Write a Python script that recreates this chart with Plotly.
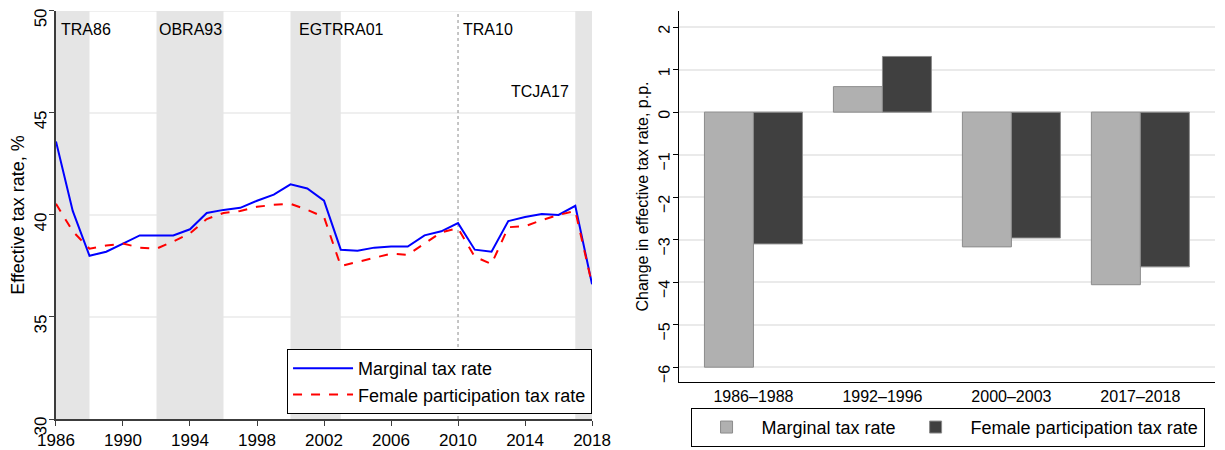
import plotly.graph_objects as go

# Effective tax rates over time (%)
years = list(range(1986, 2019))
marginal_rate = [43.6, 40.2, 38.0, 38.2, 38.6, 39.0, 39.0, 39.0, 39.3, 40.1,
                 40.25, 40.35, 40.7, 41.0, 41.5, 41.3, 40.7, 38.3, 38.25, 38.4,
                 38.45, 38.45, 39.0, 39.2, 39.6, 38.3, 38.2, 39.7, 39.9, 40.05,
                 40.0, 40.45, 36.6]
female_rate = [40.55, 39.2, 38.35, 38.5, 38.6, 38.4, 38.35, 38.7, 39.1, 39.8,
               40.1, 40.2, 40.4, 40.5, 40.55, 40.25, 39.9, 37.5, 37.7, 37.9,
               38.1, 38.05, 38.6, 39.15, 39.35, 37.95, 37.6, 39.4, 39.45, 39.75,
               40.0, 40.2, 36.6]

# Reform periods (shaded) and labels
reform_start = [1986, 1992, 2000, 2017]
reform_end = [1988, 1996, 2003, 2018]
reform_labels = ['TRA86', 'OBRA93', 'EGTRRA01', 'TRA10', 'TCJA17']
label_x = [1986.18, 1992.03, 2000.4, 2010.2, 2016.75]
label_y = [49.07, 49.07, 49.07, 49.07, 46.03]
label_anchor = ['left', 'left', 'left', 'left', 'right']
tra10_year = 2010
y_ticks = [30, 35, 40, 45, 50]

# Change in effective tax rate by reform period (p.p.)
periods = ['1986\u20131988', '1992\u20131996', '2000\u20132003', '2017\u20132018']
marginal_change = [-6.0, 0.6, -3.17, -4.06]
female_change = [-3.1, 1.31, -2.96, -3.64]

FONT = 'Liberation Sans, Arial, sans-serif'
GRID = 'rgb(234,234,234)'
AXIS = 'rgb(60,60,60)'

fig = go.Figure()

fig.add_trace(go.Scatter(x=years, y=marginal_rate, mode='lines',
                         name='Marginal tax rate',
                         line=dict(color='blue', width=2),
                         xaxis='x', yaxis='y', legend='legend'))
fig.add_trace(go.Scatter(x=years, y=female_rate, mode='lines',
                         name='Female participation tax rate',
                         line=dict(color='red', width=2, dash='dash'),
                         xaxis='x', yaxis='y', legend='legend'))

fig.add_trace(go.Bar(x=periods, y=marginal_change, name='Marginal tax rate',
                     marker=dict(color='rgb(176,176,176)',
                                 line=dict(color='rgb(140,140,140)', width=1)),
                     xaxis='x2', yaxis='y2', legend='legend2'))
fig.add_trace(go.Bar(x=periods, y=female_change,
                     name='Female participation tax rate',
                     marker=dict(color='rgb(64,64,64)',
                                 line=dict(color='rgb(140,140,140)', width=1)),
                     xaxis='x2', yaxis='y2', legend='legend2'))

# gridlines for the left panel (drawn as shapes so the shading covers them)
for v in y_ticks[1:]:
    fig.add_shape(type='line', xref='x domain', yref='y', x0=0, x1=1, y0=v, y1=v,
                  line=dict(color=GRID, width=1.5), layer='below')

# shaded reform periods
for s, e in zip(reform_start, reform_end):
    fig.add_shape(type='rect', xref='x', yref='y domain', x0=s, x1=e, y0=0, y1=1,
                  fillcolor='rgb(229,229,229)', line_width=0, layer='below')
fig.add_shape(type='line', xref='x', yref='y domain', x0=tra10_year, x1=tra10_year,
              y0=0, y1=1, line=dict(color='rgb(140,140,140)', width=1, dash='dot'),
              layer='below')

for txt, lx, ly, anc in zip(reform_labels, label_x, label_y, label_anchor):
    fig.add_annotation(x=lx, y=ly, xref='x', yref='y', text=txt, showarrow=False,
                       xanchor=anc, yanchor='middle',
                       font=dict(size=16, color='black', family=FONT))

fig.update_layout(
    width=1225, height=450,
    margin=dict(l=0, r=0, t=0, b=0),
    plot_bgcolor='white', paper_bgcolor='white',
    font=dict(family=FONT, size=16, color='black'),
    barmode='group', bargap=0.24, bargroupgap=0,
    xaxis=dict(domain=[0.0457, 0.4833], range=[1986, 2018],
               tickvals=list(range(1986, 2019, 4)), showgrid=False,
               showline=True, linecolor=AXIS, linewidth=1.5,
               ticks='outside', ticklen=5, tickcolor=AXIS,
               tickfont=dict(size=17), zeroline=False, anchor='y',
               automargin=False, ticklabeloverflow='allow'),
    yaxis=dict(domain=[0.0689, 0.9756], range=[30, 50],
               tickvals=y_ticks, tickangle=-89.9,
               showgrid=False,
               showline=True, linecolor=AXIS, linewidth=1.5,
               ticks='outside', ticklen=5, tickcolor=AXIS,
               tickfont=dict(size=17), zeroline=False, anchor='x',
               automargin=False, ticklabeloverflow='allow',
               ticklabelstandoff=8,
               title=dict(text='Effective tax rate, %', standoff=2,
                          font=dict(size=18))),
    xaxis2=dict(domain=[0.554, 0.992], range=[-0.58, 3.58],
                showgrid=False, showline=True, linecolor='black', linewidth=1,
                ticks='', tickfont=dict(size=16), zeroline=False, anchor='y2',
                automargin=False),
    yaxis2=dict(domain=[0.151, 0.9756], range=[-6.35, 2.38],
                tickvals=list(range(-6, 3)), tickangle=-89.9,
                showgrid=True, gridcolor=GRID, gridwidth=1.5,
                showline=True, linecolor='black', linewidth=1,
                ticks='outside', ticklen=5, tickcolor='black',
                tickfont=dict(size=16), zeroline=False, anchor='x2',
                automargin=False, ticklabeloverflow='allow',
                ticklabelstandoff=8,
                title=dict(text='Change in effective tax rate, p.p.', standoff=2,
                           font=dict(size=16))),
    legend=dict(x=0.4833, xanchor='right', y=0.08, yanchor='bottom',
                bgcolor='white', bordercolor='black', borderwidth=1,
                font=dict(size=18), tracegroupgap=0, itemwidth=60),
    legend2=dict(x=0.7735, xanchor='center', y=0.007, yanchor='bottom',
                 orientation='h', bgcolor='white', bordercolor='black',
                 borderwidth=1, font=dict(size=18), itemwidth=60),
)

# drop the page's default body margin so the figure sits at the window corner
fig.write_html('out.html', config={'displayModeBar': False},
               post_script="document.body.style.margin='0';")
